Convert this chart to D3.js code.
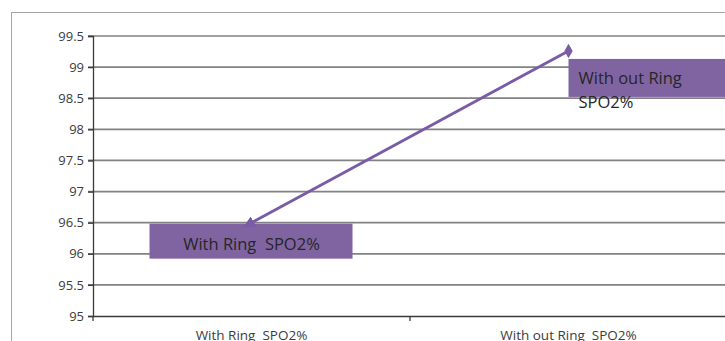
<!DOCTYPE html>
<html>
<head>
<meta charset="utf-8">
<script src="https://cdn.jsdelivr.net/npm/d3@7/dist/d3.min.js"></script>
<style>
  html, body { margin: 0; padding: 0; background: #fff; }
  svg { display: block; }
  text { font-family: "Open Sans", "Liberation Sans", sans-serif; white-space: pre; }
</style>
</head>
<body>
<svg id="chart" width="725" height="341"></svg>
<script>
// SpO2 readings with and without the ring
const categories = ["With Ring  SPO2%", "With out Ring  SPO2%"];
const values = [96.5, 99.26];
const pointLabels = [["With Ring  SPO2%"], ["With out Ring", "SPO2%"]];
const yTicks = [95, 95.5, 96, 96.5, 97, 97.5, 98, 98.5, 99, 99.5];

(function draw() {
  const svg = d3.select("#chart");
  const W = 725;
  const plotLeft = 93, plotRight = 727, plotTop = 36, plotBottom = 316;
  const purple = "#7a5ba6";
  const gridColor = "#828282";

  // frame around the chart area
  svg.append("rect")
    .attr("x", 11.5).attr("y", 12.5)
    .attr("width", 760).attr("height", 360)
    .attr("fill", "none").attr("stroke", "#a6a6a6").attr("stroke-width", 1);

  const x = d3.scaleBand().domain(categories).range([plotLeft, plotRight]).padding(0);
  const y = d3.scaleLinear().domain([95, 99.5]).range([plotBottom, plotTop]);

  // horizontal gridlines
  svg.append("g").selectAll("line").data(yTicks.slice(1)).join("line")
    .attr("x1", plotLeft - 5).attr("x2", W)
    .attr("y1", d => y(d)).attr("y2", d => y(d))
    .attr("stroke", gridColor).attr("stroke-width", 1.7);

  // y axis
  const yAxis = d3.axisLeft(y).tickValues(yTicks).tickSize(5).tickPadding(4)
    .tickFormat(d => d3.format("")(d));
  const gy = svg.append("g").attr("transform", `translate(${plotLeft},0)`).call(yAxis);
  gy.select(".domain").attr("stroke", "#3a3a3a").attr("stroke-width", 1.3);
  gy.selectAll(".tick line").attr("stroke", "#3a3a3a").attr("stroke-width", 1.3);
  gy.selectAll(".tick text").attr("fill", "#3c3c3c").attr("font-size", 13)
    .attr("font-family", "'Open Sans', sans-serif");

  // x axis with ticks at the category boundaries
  const xAxis = d3.axisBottom(x).tickSize(0).tickPadding(14);
  const gx = svg.append("g").attr("transform", `translate(0,${plotBottom})`).call(xAxis);
  gx.select(".domain").attr("stroke", "#3a3a3a").attr("stroke-width", 1.6);
  gx.selectAll(".tick text").attr("fill", "#3c3c3c").attr("font-size", 13.5)
    .attr("font-family", "'Open Sans', sans-serif");
  gx.selectAll(".boundary").data([plotLeft, plotLeft + x.bandwidth()]).join("line")
    .attr("class", "boundary")
    .attr("x1", d => d).attr("x2", d => d)
    .attr("y1", 0).attr("y2", 5)
    .attr("stroke", "#3a3a3a").attr("stroke-width", 1.3);

  const cx = i => x(categories[i]) + x.bandwidth() / 2;

  // label boxes behind the line
  const boxes = [
    { i: 0, dx: -102, dy: 1, w: 203, h: 35 },
    { i: 1, dx: 0, dy: 8, w: 170, h: 38 }
  ];
  svg.append("g").selectAll("rect").data(boxes).join("rect")
    .attr("x", d => cx(d.i) + d.dx).attr("y", d => y(values[d.i]) + d.dy)
    .attr("width", d => d.w).attr("height", d => d.h)
    .attr("fill", "#8064a2");

  // arrowhead marker at the start of the line
  const defs = svg.append("defs");
  defs.append("marker").attr("id", "arrow")
    .attr("viewBox", "0 0 10 10").attr("refX", 2).attr("refY", 5)
    .attr("markerWidth", 4.2).attr("markerHeight", 4.2).attr("orient", "auto-start-reverse")
    .attr("markerUnits", "strokeWidth")
    .append("path").attr("d", "M0,0 L10,5 L0,10 z").attr("fill", purple);

  const line = d3.line().x((d, i) => cx(i)).y(d => y(d));
  svg.append("path").datum(values)
    .attr("d", line)
    .attr("fill", "none").attr("stroke", purple).attr("stroke-width", 2.8)
    .attr("marker-start", "url(#arrow)");

  // diamond marker at the end point
  svg.append("path")
    .attr("d", d3.symbol().type(d3.symbolDiamond).size(60)())
    .attr("transform", `translate(${cx(1)},${y(values[1])})`)
    .attr("fill", purple);

  // point labels
  const lab = svg.append("g");
  lab.append("text")
    .attr("x", cx(0)).attr("y", y(values[0]) + 27)
    .attr("text-anchor", "middle").attr("font-size", 16.5)
    .attr("fill", "#262626").text(pointLabels[0][0]);
  lab.append("text")
    .attr("x", cx(1) + 10).attr("y", y(values[1]) + 33)
    .attr("font-size", 16.5).attr("fill", "#262626")
    .selectAll("tspan").data(pointLabels[1]).join("tspan")
    .attr("x", cx(1) + 10).attr("dy", (d, i) => i ? 24 : 0).text(d => d);
})();
</script>
</body>
</html>
